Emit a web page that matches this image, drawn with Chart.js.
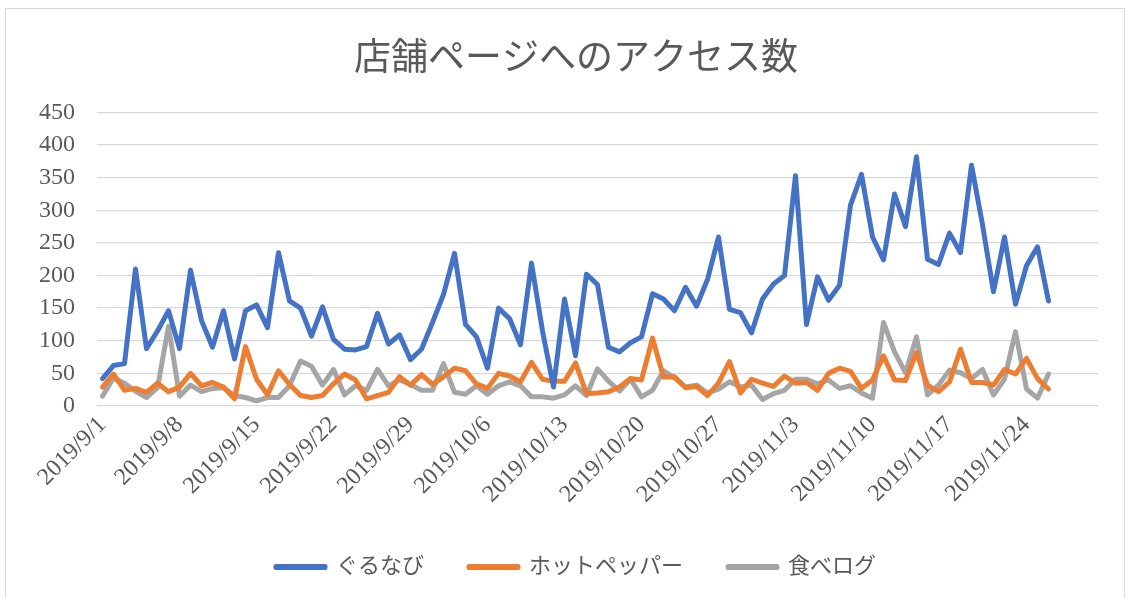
<!DOCTYPE html>
<html lang="ja">
<head>
<meta charset="utf-8">
<title>店舗ページへのアクセス数</title>
<script src="https://cdn.jsdelivr.net/npm/chart.js@4"></script>
<style>
  html, body { margin: 0; padding: 0; background: #fff; }
  #wrap { position: relative; width: 1131px; height: 598px; overflow: hidden; }
  #frame { position: absolute; left: 5px; top: 8px; width: 1120px; height: 600px; border: 1px solid #d9d9d9; box-sizing: border-box; pointer-events: none; }
  #accessChart { position: absolute; left: 0; top: 0; }
</style>
</head>
<body>
<div id="wrap">
  <div id="frame"></div>
  <canvas id="accessChart" width="1131" height="598"></canvas>
</div>
<script>
// x axis runs 2019/9/1 .. 2019/11/30, data stops at 11/26
const startDate = new Date(2019, 8, 1);
const dayCount = 91;
const tickLabels = ["2019/9/1", "2019/9/8", "2019/9/15", "2019/9/22", "2019/9/29", "2019/10/6",
  "2019/10/13", "2019/10/20", "2019/10/27", "2019/11/3", "2019/11/10", "2019/11/17", "2019/11/24"];

const gurunavi = [42, 62, 65, 210, 88, 115, 146, 88, 208, 131, 90, 146, 72, 146, 155, 120, 235, 161, 150, 107,
  152, 102, 87, 86, 91, 142, 95, 109, 71, 87, 128, 171, 234, 125, 106, 58, 150, 134, 94, 219,
  115, 29, 164, 77, 202, 186, 90, 83, 97, 106, 172, 164, 146, 182, 153, 194, 259, 148, 143, 112,
  164, 187, 200, 353, 125, 198, 162, 185, 308, 355, 259, 224, 325, 275, 382, 225, 217, 265, 235, 369,
  278, 175, 259, 156, 215, 244, 161];
const hotpepper = [29, 49, 24, 27, 21, 35, 22, 29, 50, 31, 36, 29, 11, 91, 41, 17, 54, 33, 16, 13,
  16, 34, 49, 40, 11, 16, 21, 45, 32, 48, 33, 45, 58, 54, 34, 27, 50, 46, 37, 67,
  41, 38, 38, 66, 19, 20, 22, 29, 42, 40, 104, 44, 45, 28, 30, 16, 35, 68, 20, 41,
  35, 30, 46, 35, 36, 24, 50, 58, 53, 27, 40, 77, 40, 39, 82, 32, 22, 37, 87, 36,
  36, 32, 56, 49, 73, 42, 26];
const tabelog = [15, 43, 35, 23, 13, 28, 122, 15, 32, 22, 27, 28, 16, 13, 8, 13, 13, 31, 69, 61,
  32, 56, 17, 31, 24, 56, 31, 40, 33, 24, 24, 65, 21, 18, 31, 18, 31, 37, 31, 14,
  14, 12, 17, 31, 16, 57, 38, 23, 41, 14, 24, 54, 43, 29, 32, 20, 26, 37, 29, 32,
  10, 19, 24, 41, 41, 34, 40, 27, 31, 20, 12, 128, 83, 51, 106, 17, 32, 55, 51, 42,
  56, 17, 41, 114, 26, 12, 49];

const seriesNames = ["ぐるなび", "ホットペッパー", "食べログ"];
const seriesColors = ["#4472C4", "#ED7D31", "#A5A5A5"];

const categories = [];
for (let i = 0; i < dayCount; i++) {
  const d = new Date(startDate.getTime());
  d.setDate(d.getDate() + i);
  categories.push(`${d.getFullYear()}/${d.getMonth() + 1}/${d.getDate()}`);
}

const fontFamily = '"Liberation Serif", "Noto Sans CJK JP", serif';
const textColor = "#595959";

const makeSet = (label, data, color) => ({
  label,
  data,
  borderColor: color,
  backgroundColor: color,
  borderWidth: 5,
  borderJoinStyle: "round",
  borderCapStyle: "round",
  pointRadius: 0,
  pointHoverRadius: 0,
  tension: 0,
  fill: false,
});

const ctx = document.getElementById("accessChart").getContext("2d");
new Chart(ctx, {
  type: "line",
  data: {
    labels: categories,
    datasets: [
      makeSet(seriesNames[0], gurunavi, seriesColors[0]),
      makeSet(seriesNames[1], hotpepper, seriesColors[1]),
      makeSet(seriesNames[2], tabelog, seriesColors[2]),
    ],
  },
  options: {
    responsive: false,
    animation: false,
    events: [],
    layout: { padding: { left: 36, right: 15, top: 0, bottom: 10 } },
    plugins: {
      title: {
        display: true,
        text: "店舗ページへのアクセス数",
        color: textColor,
        font: { family: fontFamily, size: 37, weight: "normal" },
        padding: { top: 38, bottom: 30 },
      },
      legend: {
        position: "bottom",
        labels: {
          color: textColor,
          font: { family: fontFamily, size: 22 },
          boxWidth: 49,
          boxHeight: 1,
          padding: 45,
        },
      },
      tooltip: { enabled: false },
    },
    scales: {
      x: {
        offset: true,
        grid: { display: false, drawTicks: false },
        border: { display: false },
        afterFit: (scale) => { scale.height = 105; },
        ticks: {
          autoSkip: false,
          maxRotation: 45,
          minRotation: 45,
          padding: 5,
          color: textColor,
          font: { family: fontFamily, size: 24 },
          callback: function (value, index) {
            const label = this.getLabelForValue(value);
            return tickLabels.includes(label) ? label : "";
          },
        },
      },
      y: {
        min: 0,
        max: 450,
        grid: { color: "#d9d9d9", lineWidth: 1.3, drawTicks: false },
        border: { display: false },
        afterFit: (scale) => { scale.width = 61; },
        ticks: {
          stepSize: 50,
          padding: 22,
          color: textColor,
          font: { family: fontFamily, size: 24 },
        },
      },
      // empty spacer on the right so the plot ends where Excel's does
      spacer: {
        type: "linear",
        position: "right",
        grid: { display: false, drawTicks: false },
        border: { display: false },
        ticks: { display: false },
        afterFit: (scale) => { scale.width = 18; },
      },
    },
  },
});
</script>
</body>
</html>
